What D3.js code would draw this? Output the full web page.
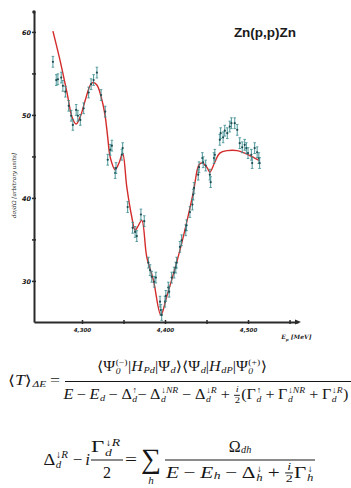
<!DOCTYPE html>
<html><head><meta charset="utf-8">
<script src="https://cdn.jsdelivr.net/npm/d3@7"></script>
<style>
body{margin:0;background:#fff;width:351px;height:488px;overflow:hidden;position:relative;}
svg{position:absolute;left:0;top:0;}
.eqp{position:absolute;left:0;top:0;font-family:'Liberation Serif','DejaVu Serif',serif;color:#161616;white-space:nowrap;display:flex;align-items:center;line-height:1;transform-origin:50% 50%;}
.ss{display:inline-flex;flex-direction:column;font-size:0.6em;line-height:1.02;margin:0 0.5px 0 0.5px;position:relative;top:0.08em;}
.sb{font-size:0.64em;position:relative;top:0.34em;margin-left:0.5px;}
.sm{display:inline-flex;flex-direction:column;align-items:center;font-size:0.66em;line-height:1.05;margin:0 1px;}
.sm>span:last-child{border-top:0.8px solid #161616;}
.op{margin:0 0.22em;}
</style></head><body>
<script>
// ---- data ----
const xTickValues = [4.30, 4.35, 4.40, 4.45, 4.50, 4.55];
const xTickLabels = {4.30: "4,300", 4.40: "4,400", 4.50: "4,500"};
const yTickValues = [30, 35, 40, 45, 50, 55, 60];
const yTickLabels = {30: "30", 40: "40", 50: "50", 60: "60"};
const xExtent = [4.2422, 4.5602];
const yExtent = [25.05, 62.4];
const errHalf = 0.65;

const energy = [4.265,4.269,4.271,4.275,4.277,4.280,4.284,4.287,4.289,4.293,4.295,4.298,4.302,4.308,4.311,4.314,4.318,4.323,4.328,
  4.331,4.334,4.336,4.340,4.341,4.348,4.349,4.355,4.361,4.364,4.366,4.371,4.375,4.380,4.382,4.384,4.387,4.389,4.394,4.395,4.396,
  4.400,4.401,4.404,4.405,4.408,4.411,4.413,4.414,4.418,4.420,4.425,4.426,4.430,4.433,4.434,4.435,4.440,4.441,4.445,4.446,4.449,
  4.454,4.455,4.459,4.460,4.466,4.467,4.470,4.472,4.475,4.478,4.480,4.484,4.487,4.490,4.493,4.496,4.498,4.500,4.504,4.505,4.508,
  4.511,4.513,4.514];
const sigma = [56.4,54.2,54.3,54.5,53.5,52.8,51.1,49.9,48.8,50.6,49.9,49.4,50.8,52.7,53.7,54.2,55.1,52.4,50.4,
  44.6,45.8,46.3,43.0,43.6,45.2,46.0,38.9,36.4,35.9,35.4,38.0,37.2,32.2,31.3,30.5,29.9,30.4,27.5,26.5,25.9,
  27.5,28.2,29.2,28.7,30.4,31.0,31.6,32.2,34.1,34.9,36.1,36.7,38.3,39.2,40.4,41.2,42.8,43.7,44.8,44.3,43.9,
  42.8,41.9,44.8,45.2,47.0,47.8,47.3,48.1,47.8,48.6,49.0,49.0,48.2,46.6,46.1,46.4,46.0,45.4,45.2,44.2,46.0,
  45.5,44.8,44.2];

const fitE = [4.265,4.2735,4.282,4.288,4.293,4.298,4.304,4.310,4.313,4.318,4.324,4.328,4.331,4.334,4.340,4.345,4.349,4.354,
  4.360,4.364,4.367,4.372,4.378,4.386,4.395,4.402,4.414,4.422,4.434,4.441,4.445,4.451,4.454,4.460,4.466,4.475,4.487,4.496,4.506,4.514];
const fitSigma = [60.1,56.6,52.65,49.76,48.9,49.8,51.8,53.6,53.9,53.6,51.8,49.8,47.3,44.9,43.4,44.3,45.4,41.3,
  37.7,36.1,36.5,37.3,32.9,30.1,25.9,28.1,32.2,35.3,40.6,44.0,44.2,43.6,43.1,44.3,45.4,45.7,45.7,45.4,44.9,44.5];

const title = "Zn(p,p)Zn";
const yLabel = "dσ/dΩ  [arbitrary units]";
const xLabel = "E";

// ---- chart ----
const svg = d3.select("body").append("svg").attr("width",351).attr("height",488);
const x = d3.scaleLinear().domain(xExtent).range([34,298]);
const y = d3.scaleLinear().domain(yExtent).range([322,12]);
const axisCol = "#2a2a2a";

const gx = svg.append("g").attr("transform",`translate(0,${y(yExtent[0])})`)
  .call(d3.axisBottom(x).tickValues(xTickValues).tickSize(2).tickSizeOuter(0).tickFormat(d=>xTickLabels[d]||""));
gx.select(".domain").attr("stroke",axisCol).attr("stroke-width",2);
gx.selectAll(".tick line").attr("stroke",axisCol).attr("stroke-width",1.5).attr("y1",-2);
gx.selectAll(".tick text").attr("font-family","DejaVu Sans").attr("font-size",5.5).attr("font-weight","bold")
  .attr("font-style","italic").attr("fill","#222").attr("dy","0.9em");

const gy = svg.append("g").attr("transform",`translate(${x(xExtent[0])},0)`)
  .call(d3.axisLeft(y).tickValues(yTickValues).tickSize(2).tickSizeOuter(0).tickFormat(d=>yTickLabels[d]||""));
gy.select(".domain").attr("stroke",axisCol).attr("stroke-width",2);
gy.selectAll(".tick line").attr("stroke",axisCol).attr("stroke-width",1.5).attr("x1",2);
gy.selectAll(".tick text").attr("font-family","DejaVu Sans").attr("font-size",6.5).attr("font-weight","bold")
  .attr("font-style","italic").attr("fill","#111").attr("x",-3);

// arrow tips
svg.append("circle").attr("cx",x(xExtent[0])).attr("cy",y(yExtent[1])).attr("r",1.8).attr("fill",axisCol);
svg.append("path").attr("d",`M${x(xExtent[1])+3},${y(yExtent[0])} l-6,-2.5 l0,5 z`).attr("fill",axisCol);

// axis labels
svg.append("text").attr("transform",`translate(16,${y(41.5)}) rotate(-90)`).attr("text-anchor","middle")
  .attr("font-family","DejaVu Serif").attr("font-style","italic").attr("font-size",5.6).attr("fill","#222").text(yLabel);
const xl = svg.append("text").attr("x",x(4.54)).attr("y",y(yExtent[0])+17).attr("font-family","DejaVu Serif")
  .attr("font-style","italic").attr("font-weight","bold").attr("font-size",6).attr("fill","#222");
xl.append("tspan").text(xLabel);
xl.append("tspan").attr("font-size",4).attr("dy",1.5).text("p");
xl.append("tspan").attr("dy",-1.5).text(" [MeV]");

// title
svg.append("text").attr("x",265).attr("y",37).attr("text-anchor","middle").attr("font-family","Liberation Sans, Arial")
  .attr("font-weight","bold").attr("font-size",13.5).attr("fill","#1a1a1a").text(title);

// fit curve
const fit = fitE.map((e,i)=>[e,fitSigma[i]]);
svg.append("path").datum(fit).attr("fill","none").attr("stroke","#d42b2b").attr("stroke-width",1.4)
  .attr("d",d3.line().x(d=>x(d[0])).y(d=>y(d[1])).curve(d3.curveCatmullRom.alpha(0.5)));

// data points with error bars
const pts = energy.map((e,i)=>({e,s:sigma[i]}));
const pg = svg.append("g").selectAll("g").data(pts).join("g");
pg.append("line").attr("x1",d=>x(d.e)).attr("x2",d=>x(d.e)).attr("y1",d=>y(d.s+errHalf)).attr("y2",d=>y(d.s-errHalf))
  .attr("stroke","#3a8c8f").attr("stroke-width",0.9);
pg.append("line").attr("x1",d=>x(d.e)-1.3).attr("x2",d=>x(d.e)+1.3).attr("y1",d=>y(d.s+errHalf)).attr("y2",d=>y(d.s+errHalf))
  .attr("stroke","#3a8c8f").attr("stroke-width",0.8);
pg.append("line").attr("x1",d=>x(d.e)-1.3).attr("x2",d=>x(d.e)+1.3).attr("y1",d=>y(d.s-errHalf)).attr("y2",d=>y(d.s-errHalf))
  .attr("stroke","#3a8c8f").attr("stroke-width",0.8);
pg.append("circle").attr("cx",d=>x(d.e)).attr("cy",d=>y(d.s)).attr("r",1.1).attr("fill","#1d4b50");

// ---- equations ----
const S = (sup, sub) => `<span class="ss"><span>${sup||'&nbsp;'}</span><span><i>${sub||'&nbsp;'}</i></span></span>`;
const SM = (n, d) => `<span class="sm"><span>${n}</span><span>${d}</span></span>`;
const sb = t => `<span class="sb"><i>${t}</i></span>`;
const op = t => `<span class="op">${t}</span>`;

function place(html, cx, cy, fs, w) {
  const el = d3.select("body").append("div").attr("class","eqp").style("font-size",fs+"px").html(html);
  const bw = el.node().getBoundingClientRect().width;
  const sx = w ? w / bw : 1;
  el.style("left",cx+"px").style("top",cy+"px").style("transform",`translate(-50%,-50%) scaleX(${sx})`);
}
function bar(x1, x2, yy) {
  svg.append("line").attr("x1",x1).attr("x2",x2).attr("y1",yy).attr("y2",yy).attr("stroke","#161616").attr("stroke-width",1);
}

// equation 1
place(`⟨<i>T</i>⟩${sb('ΔE')}${op('=')}`, 36, 381, 14, 56);
place(`⟨Ψ${S('(−)','0')}|<i>H</i>${sb('Pd')}|Ψ${sb('d')}⟩⟨Ψ${sb('d')}|<i>H</i>${sb('dP')}|Ψ${S('(+)','0')}⟩`, 182, 367.5, 14, 170);
bar(65, 351, 381.5);
place(`<i>E</i>${op('−')}<i>E</i>${sb('d')}${op('−')}Δ${S('↑','d')}−&thinsp;Δ${S('↓<i>NR</i>','d')}${op('−')}Δ${S('↓<i>R</i>','d')}${op('+')}${SM('<i>i</i>','2')}(Γ${S('↑','d')}${op('+')}Γ${S('↓<i>NR</i>','d')}${op('+')}Γ${S('↓<i>R</i>','d')})`, 205.5, 395, 14, 285);

// equation 2
place(`Δ${S('↓<i>R</i>','d')}`, 55.5, 459, 17, 25);
place(`−`, 77.5, 459, 17);
place(`<i>i</i>`, 87.5, 459, 17);
place(`Γ${S('↓<i>R</i>','d')}`, 106, 447, 16, 30);
bar(91, 123, 460);
place(`2`, 107, 472.5, 16);
place(`=`, 131, 459, 17, 12);
place(`∑`, 151, 459, 28);
place(`<i>h</i>`, 151, 480, 11);
bar(165, 315, 460);
place(`Ω${sb('dh')}`, 240, 447, 16);
place(`<i>E</i>${op('−')}<i>E</i>${sb('h')}${op('−')}Δ${S('↓','h')}${op('+')}${SM('<i>i</i>','2')}Γ${S('↓','h')}`, 240, 473, 16, 148);
</script>
</body></html>
